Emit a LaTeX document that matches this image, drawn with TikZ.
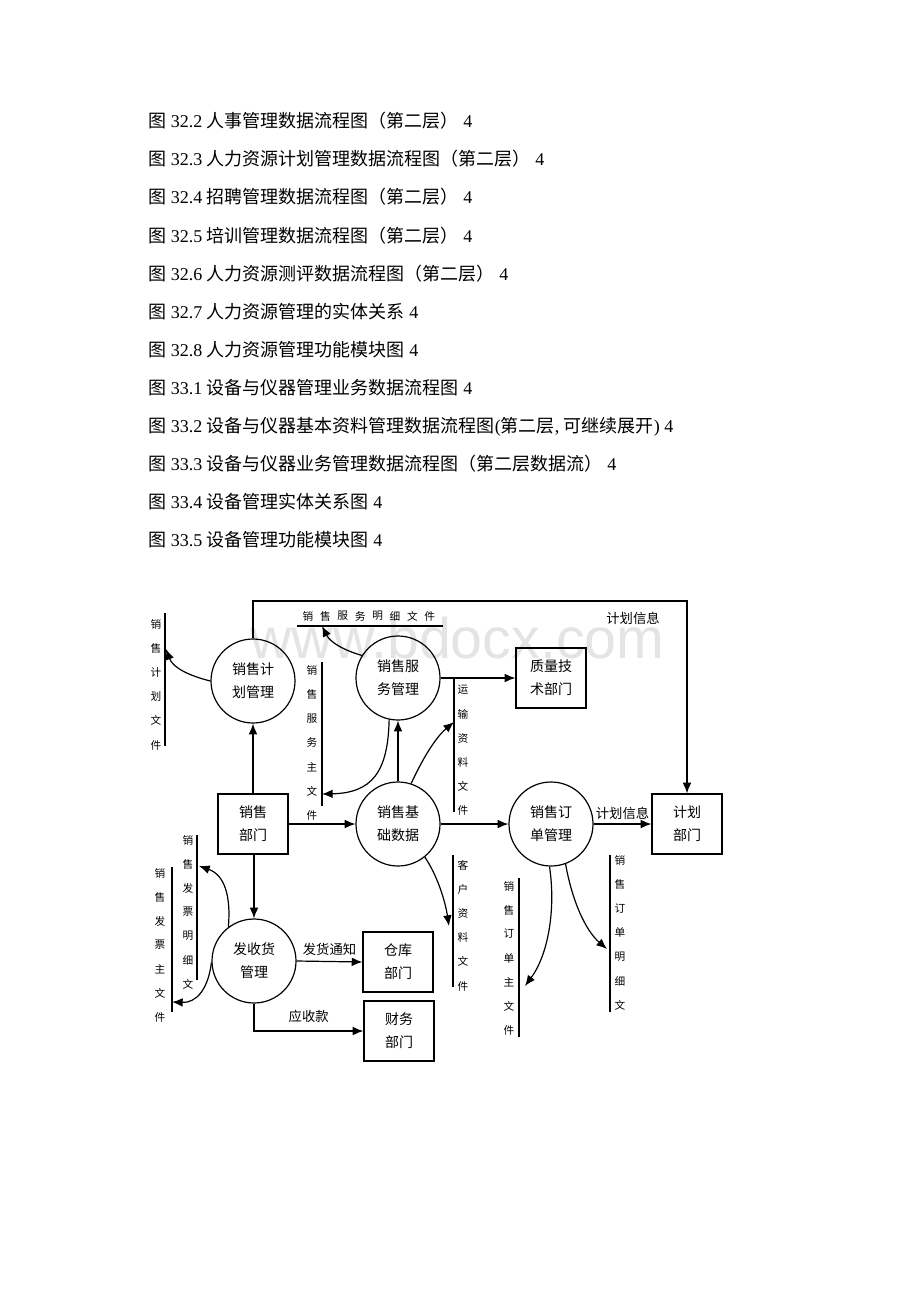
\documentclass[tikz,border=0pt]{standalone}
\usepackage{fontspec}
\setmainfont{Liberation Serif}
\newfontfamily\cjk{Noto Sans CJK SC}
\newfontfamily\wmfont{Liberation Sans}
\usetikzlibrary{arrows.meta,calc}
\definecolor{wmgray}{RGB}{228,228,228}
\begin{document}
\begin{tikzpicture}[x=0.75pt,y=-0.75pt,
  proc/.style={circle,draw,line width=0.9pt,minimum size=63pt,inner sep=0pt,align=center,
    font=\cjk\fontsize{10.5}{17.25}\selectfont},
  ext/.style={rectangle,draw,line width=0.9pt,minimum width=52.5pt,minimum height=45pt,inner sep=0pt,align=center,
    font=\cjk\fontsize{10.5}{17.25}\selectfont},
  arr/.style={line width=0.9pt,-{Latex[length=8pt,width=6.5pt]}},
  storeline/.style={line width=0.8pt},
  sch/.style={font=\cjk\fontsize{8}{8}\selectfont,inner sep=0pt},
  lbl/.style={font=\cjk\fontsize{10}{12}\selectfont,inner sep=0pt},
  toc/.style={anchor=base west,inner sep=0pt,font=\fontsize{13.5}{16}\selectfont}
]
\fill[white] (0,0) rectangle (920,1302);
\useasboundingbox (0,0) rectangle (920,1302);

% ---------------- table of contents ----------------
\node[toc] (t1) at (148,128) {{\cjk 图} 32.2 {\cjk 人事管理数据流程图（第二层）} 4};
\node[toc] (t2) at (148,166) {{\cjk 图} 32.3 {\cjk 人力资源计划管理数据流程图（第二层）} 4};
\node[toc] (t3) at (148,204) {{\cjk 图} 32.4 {\cjk 招聘管理数据流程图（第二层）} 4};
\node[toc] (t4) at (148,242) {{\cjk 图} 32.5 {\cjk 培训管理数据流程图（第二层）} 4};
\node[toc] (t5) at (148,280) {{\cjk 图} 32.6 {\cjk 人力资源测评数据流程图（第二层）} 4};
\node[toc] (t6) at (148,318) {{\cjk 图} 32.7 {\cjk 人力资源管理的实体关系} 4};
\node[toc] (t7) at (148,356) {{\cjk 图} 32.8 {\cjk 人力资源管理功能模块图} 4};
\node[toc] (t8) at (148,394) {{\cjk 图} 33.1 {\cjk 设备与仪器管理业务数据流程图} 4};
\node[toc] (t9) at (148,432) {{\cjk 图} 33.2 {\cjk 设备与仪器基本资料管理数据流程图}({\cjk 第二层}, {\cjk 可继续展开}) 4};
\node[toc] (t10) at (148,470) {{\cjk 图} 33.3 {\cjk 设备与仪器业务管理数据流程图（第二层数据流）} 4};
\node[toc] (t11) at (148,508) {{\cjk 图} 33.4 {\cjk 设备管理实体关系图} 4};
\node[toc] (t12) at (148,546) {{\cjk 图} 33.5 {\cjk 设备管理功能模块图} 4};

% ---------------- watermark ----------------
\node[anchor=base west,inner sep=0pt,text=wmgray,font=\wmfont\fontsize{43}{43}\selectfont] (wm) at (250,658) {www.bdocx.com};

% ---------------- processes ----------------
\node[proc] (jh) at (253,681) {销售计\\划管理};
\node[proc] (fw) at (398,678) {销售服\\务管理};
\node[proc] (jc) at (398,824) {销售基\\础数据};
\node[proc] (dd) at (551,824) {销售订\\单管理};
\node[proc] (fs) at (254,961) {发收货\\管理};

% ---------------- external entities ----------------
\node[ext] (bm) at (253,824) {销售\\部门};
\node[ext] (zl) at (551,678) {质量技\\术部门};
\node[ext] (jhbm) at (687,824) {计划\\部门};
\node[ext] (ck) at (398,962) {仓库\\部门};
\node[ext] (cw) at (399,1031) {财务\\部门};

% ---------------- data stores ----------------
% 销售计划文件
\draw[storeline] (165,613) -- (165,746);
\foreach \c [count=\i] in {销,售,计,划,文,件}
  \node[sch] (s1-\i) at (156,{624+(\i-1)*24.2}) {\c};
% 销售服务主文件
\draw[storeline] (322,662) -- (322,806);
\foreach \c [count=\i] in {销,售,服,务,主,文,件}
  \node[sch] (s2-\i) at (312,{670+(\i-1)*24.2}) {\c};
% 销售服务明细文件
\draw[storeline] (297,626) -- (443,626);
\foreach \c [count=\i] in {销,售,服,务,明,细,文,件}
  \node[sch] (s3-\i) at ({308+(\i-1)*17.4},616) {\c};
% 运输资料文件
\draw[storeline] (454,679) -- (454,812);
\foreach \c [count=\i] in {运,输,资,料,文,件}
  \node[sch] (s4-\i) at (463,{690+(\i-1)*24}) {\c};
% 客户资料文件
\draw[storeline] (453,855) -- (453,987);
\foreach \c [count=\i] in {客,户,资,料,文,件}
  \node[sch] (s5-\i) at (463,{865+(\i-1)*24.2}) {\c};
% 销售订单主文件
\draw[storeline] (519,878) -- (519,1037);
\foreach \c [count=\i] in {销,售,订,单,主,文,件}
  \node[sch] (s6-\i) at (509,{886+(\i-1)*24}) {\c};
% 销售订单明细文
\draw[storeline] (610,855) -- (610,1012);
\foreach \c [count=\i] in {销,售,订,单,明,细,文}
  \node[sch] (s7-\i) at (620,{860+(\i-1)*24.2}) {\c};
% 销售发票明细文
\draw[storeline] (197,835) -- (197,980);
\foreach \c [count=\i] in {销,售,发,票,明,细,文}
  \node[sch] (s8-\i) at (188,{840+(\i-1)*24}) {\c};
% 销售发票主文件
\draw[storeline] (172,867) -- (172,1012);
\foreach \c [count=\i] in {销,售,发,票,主,文,件}
  \node[sch] (s9-\i) at (160,{873+(\i-1)*24}) {\c};

% ---------------- arrow end points on stores ----------------
\coordinate (p1) at (166,649);
\coordinate (p2) at (322,626);
\coordinate (p3) at (322,794);
\coordinate (p4) at (454,722);
\coordinate (p5) at (449,926);
\coordinate (p6) at (525,986);
\coordinate (p7) at (607,949);
\coordinate (p8) at (199,866);
\coordinate (p9) at (172,1002);
\coordinate (topy) at (0,601);

% ---------------- flows ----------------
\draw[arr] (jh.180) .. controls (190,676) and (173,668) .. (p1);
\draw[arr] (fw.148) .. controls (343,650) and (330,642) .. (p2);
\draw[arr] (fw.east) -- (zl.west);
\draw[arr] (fw.258) .. controls (388,772) and (372,793) .. (p3);
\draw[arr] (jc.north) -- (fw.south);
\draw[arr] (jc.72) .. controls (422,760) and (435,738) .. (p4);
\draw[arr] (bm.north) -- (jh.south);
\draw[arr] (bm.east) -- (jc.west);
\draw[arr] (jc.east) -- (dd.west);
\draw[arr] (dd.east) -- node[lbl,above=3pt] (l1) {计划信息} (jhbm.west);
\draw[arr] (jh.north) |- (topy -| jhbm.north) -- (jhbm.north);
\node[lbl] (l0) at (633,618) {计划信息};
\draw[arr] (jc.-51) .. controls (437,875) and (445,900) .. (p5);
\draw[arr] (dd.268) .. controls (556,910) and (548,955) .. (p6);
\draw[arr] (dd.-70) .. controls (572,900) and (585,930) .. (p7);
\draw[arr] (bm.south -| fs.north) -- (fs.north);
\draw[arr] (fs.east) -- node[lbl,above=4pt] (l2) {发货通知} (ck.west);
\draw[arr] (fs.south) |- node[lbl,pos=0.75,above=6pt] (l3) {应收款} (cw.west);
\draw[arr] (fs.127) .. controls (231,897) and (225,875) .. (p8);
\draw[arr] (fs.182) .. controls (208,990) and (196,1003) .. (p9);
\end{tikzpicture}
\end{document}
